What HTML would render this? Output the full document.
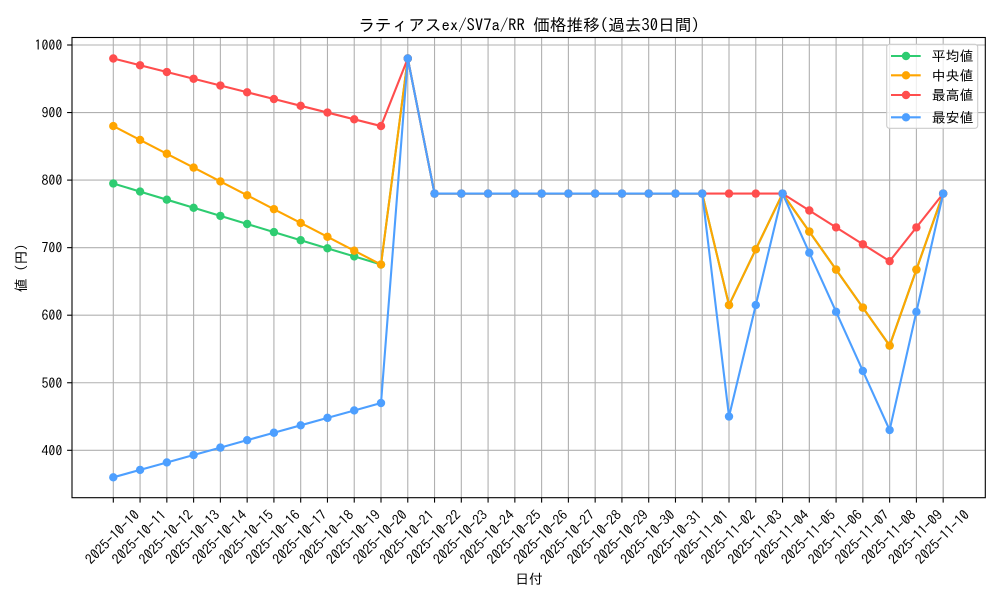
<!DOCTYPE html>
<html><head><meta charset="utf-8"><style>
html,body{margin:0;padding:0;background:#fff;}
svg{display:block;}
text{font-family:"IPAGothic","Liberation Sans","Noto Sans CJK JP",sans-serif;fill:#000;}
</style></head><body>
<svg width="1000" height="600" viewBox="0 0 1000 600" xmlns="http://www.w3.org/2000/svg">
<defs>
<marker id="mg" markerUnits="userSpaceOnUse" markerWidth="10" markerHeight="10" refX="5" refY="5" overflow="visible"><circle cx="5" cy="5" r="4.2" fill="#2ecc71"/></marker>
<marker id="mo" markerUnits="userSpaceOnUse" markerWidth="10" markerHeight="10" refX="5" refY="5" overflow="visible"><circle cx="5" cy="5" r="4.2" fill="#ffa500"/></marker>
<marker id="mr" markerUnits="userSpaceOnUse" markerWidth="10" markerHeight="10" refX="5" refY="5" overflow="visible"><circle cx="5" cy="5" r="4.2" fill="#ff4d4d"/></marker>
<marker id="mb" markerUnits="userSpaceOnUse" markerWidth="10" markerHeight="10" refX="5" refY="5" overflow="visible"><circle cx="5" cy="5" r="4.2" fill="#4d9fff"/></marker>
</defs>
<rect x="0" y="0" width="1000" height="600" fill="#fff"/>
<!-- grid -->
<g stroke="#b0b0b0" stroke-width="1.1">
<line x1="72" x2="985.3" y1="45" y2="45"/>
<line x1="72" x2="985.3" y1="112.55" y2="112.55"/>
<line x1="72" x2="985.3" y1="180.1" y2="180.1"/>
<line x1="72" x2="985.3" y1="247.65" y2="247.65"/>
<line x1="72" x2="985.3" y1="315.2" y2="315.2"/>
<line x1="72" x2="985.3" y1="382.75" y2="382.75"/>
<line x1="72" x2="985.3" y1="450.3" y2="450.3"/>
<line x1="113.30" x2="113.30" y1="37.5" y2="497.7"/>
<line x1="140.07" x2="140.07" y1="37.5" y2="497.7"/>
<line x1="166.84" x2="166.84" y1="37.5" y2="497.7"/>
<line x1="193.61" x2="193.61" y1="37.5" y2="497.7"/>
<line x1="220.38" x2="220.38" y1="37.5" y2="497.7"/>
<line x1="247.15" x2="247.15" y1="37.5" y2="497.7"/>
<line x1="273.92" x2="273.92" y1="37.5" y2="497.7"/>
<line x1="300.69" x2="300.69" y1="37.5" y2="497.7"/>
<line x1="327.46" x2="327.46" y1="37.5" y2="497.7"/>
<line x1="354.23" x2="354.23" y1="37.5" y2="497.7"/>
<line x1="381.00" x2="381.00" y1="37.5" y2="497.7"/>
<line x1="407.77" x2="407.77" y1="37.5" y2="497.7"/>
<line x1="434.54" x2="434.54" y1="37.5" y2="497.7"/>
<line x1="461.31" x2="461.31" y1="37.5" y2="497.7"/>
<line x1="488.08" x2="488.08" y1="37.5" y2="497.7"/>
<line x1="514.85" x2="514.85" y1="37.5" y2="497.7"/>
<line x1="541.62" x2="541.62" y1="37.5" y2="497.7"/>
<line x1="568.39" x2="568.39" y1="37.5" y2="497.7"/>
<line x1="595.16" x2="595.16" y1="37.5" y2="497.7"/>
<line x1="621.93" x2="621.93" y1="37.5" y2="497.7"/>
<line x1="648.70" x2="648.70" y1="37.5" y2="497.7"/>
<line x1="675.47" x2="675.47" y1="37.5" y2="497.7"/>
<line x1="702.24" x2="702.24" y1="37.5" y2="497.7"/>
<line x1="729.01" x2="729.01" y1="37.5" y2="497.7"/>
<line x1="755.78" x2="755.78" y1="37.5" y2="497.7"/>
<line x1="782.55" x2="782.55" y1="37.5" y2="497.7"/>
<line x1="809.32" x2="809.32" y1="37.5" y2="497.7"/>
<line x1="836.09" x2="836.09" y1="37.5" y2="497.7"/>
<line x1="862.86" x2="862.86" y1="37.5" y2="497.7"/>
<line x1="889.63" x2="889.63" y1="37.5" y2="497.7"/>
<line x1="916.40" x2="916.40" y1="37.5" y2="497.7"/>
<line x1="943.17" x2="943.17" y1="37.5" y2="497.7"/>
</g>
<!-- series -->
<g fill="none" stroke-width="2.1" stroke-linejoin="round" stroke-linecap="butt">
<polyline stroke="#2ecc71" marker-start="url(#mg)" marker-mid="url(#mg)" marker-end="url(#mg)" points="113.30,183.48 140.07,191.58 166.84,199.69 193.61,207.80 220.38,215.90 247.15,224.01 273.92,232.11 300.69,240.22 327.46,248.33 354.23,256.43 381.00,264.54 407.77,58.51 434.54,193.61 461.31,193.61 488.08,193.61 514.85,193.61 541.62,193.61 568.39,193.61 595.16,193.61 621.93,193.61 648.70,193.61 675.47,193.61 702.24,193.61 729.01,305.07 755.78,249.34 782.55,193.61 809.32,231.61 836.09,269.60 862.86,307.60 889.63,345.60 916.40,269.60 943.17,193.61"/>
<polyline stroke="#ffa500" marker-start="url(#mo)" marker-mid="url(#mo)" marker-end="url(#mo)" points="113.30,126.06 140.07,139.91 166.84,153.76 193.61,167.60 220.38,181.45 247.15,195.30 273.92,209.15 300.69,222.99 327.46,236.84 354.23,250.69 381.00,264.54 407.77,58.51 434.54,193.61 461.31,193.61 488.08,193.61 514.85,193.61 541.62,193.61 568.39,193.61 595.16,193.61 621.93,193.61 648.70,193.61 675.47,193.61 702.24,193.61 729.01,305.07 755.78,249.34 782.55,193.61 809.32,231.61 836.09,269.60 862.86,307.60 889.63,345.60 916.40,269.60 943.17,193.61"/>
<polyline stroke="#ff4d4d" marker-start="url(#mr)" marker-mid="url(#mr)" marker-end="url(#mr)" points="113.30,58.51 140.07,65.27 166.84,72.02 193.61,78.78 220.38,85.53 247.15,92.29 273.92,99.04 300.69,105.80 327.46,112.55 354.23,119.31 381.00,126.06 407.77,58.51 434.54,193.61 461.31,193.61 488.08,193.61 514.85,193.61 541.62,193.61 568.39,193.61 595.16,193.61 621.93,193.61 648.70,193.61 675.47,193.61 702.24,193.61 729.01,193.61 755.78,193.61 782.55,193.61 809.32,210.50 836.09,227.39 862.86,244.27 889.63,261.16 916.40,227.39 943.17,193.61"/>
<polyline stroke="#4d9fff" marker-start="url(#mb)" marker-mid="url(#mb)" marker-end="url(#mb)" points="113.30,477.32 140.07,469.89 166.84,462.46 193.61,455.03 220.38,447.60 247.15,440.17 273.92,432.74 300.69,425.31 327.46,417.88 354.23,410.45 381.00,403.02 407.77,58.51 434.54,193.61 461.31,193.61 488.08,193.61 514.85,193.61 541.62,193.61 568.39,193.61 595.16,193.61 621.93,193.61 648.70,193.61 675.47,193.61 702.24,193.61 729.01,416.53 755.78,305.07 782.55,193.61 809.32,252.72 836.09,311.82 862.86,370.93 889.63,430.04 916.40,311.82 943.17,193.61"/>
</g>
<!-- spines -->
<rect x="72" y="37.5" width="913.3" height="460.2" fill="none" stroke="#000" stroke-width="1.1"/>
<!-- ticks -->
<g stroke="#000" stroke-width="1.1">
<line x1="67.1" x2="72" y1="45" y2="45"/>
<line x1="67.1" x2="72" y1="112.55" y2="112.55"/>
<line x1="67.1" x2="72" y1="180.1" y2="180.1"/>
<line x1="67.1" x2="72" y1="247.65" y2="247.65"/>
<line x1="67.1" x2="72" y1="315.2" y2="315.2"/>
<line x1="67.1" x2="72" y1="382.75" y2="382.75"/>
<line x1="67.1" x2="72" y1="450.3" y2="450.3"/>
<line x1="113.30" x2="113.30" y1="497.7" y2="502.6"/>
<line x1="140.07" x2="140.07" y1="497.7" y2="502.6"/>
<line x1="166.84" x2="166.84" y1="497.7" y2="502.6"/>
<line x1="193.61" x2="193.61" y1="497.7" y2="502.6"/>
<line x1="220.38" x2="220.38" y1="497.7" y2="502.6"/>
<line x1="247.15" x2="247.15" y1="497.7" y2="502.6"/>
<line x1="273.92" x2="273.92" y1="497.7" y2="502.6"/>
<line x1="300.69" x2="300.69" y1="497.7" y2="502.6"/>
<line x1="327.46" x2="327.46" y1="497.7" y2="502.6"/>
<line x1="354.23" x2="354.23" y1="497.7" y2="502.6"/>
<line x1="381.00" x2="381.00" y1="497.7" y2="502.6"/>
<line x1="407.77" x2="407.77" y1="497.7" y2="502.6"/>
<line x1="434.54" x2="434.54" y1="497.7" y2="502.6"/>
<line x1="461.31" x2="461.31" y1="497.7" y2="502.6"/>
<line x1="488.08" x2="488.08" y1="497.7" y2="502.6"/>
<line x1="514.85" x2="514.85" y1="497.7" y2="502.6"/>
<line x1="541.62" x2="541.62" y1="497.7" y2="502.6"/>
<line x1="568.39" x2="568.39" y1="497.7" y2="502.6"/>
<line x1="595.16" x2="595.16" y1="497.7" y2="502.6"/>
<line x1="621.93" x2="621.93" y1="497.7" y2="502.6"/>
<line x1="648.70" x2="648.70" y1="497.7" y2="502.6"/>
<line x1="675.47" x2="675.47" y1="497.7" y2="502.6"/>
<line x1="702.24" x2="702.24" y1="497.7" y2="502.6"/>
<line x1="729.01" x2="729.01" y1="497.7" y2="502.6"/>
<line x1="755.78" x2="755.78" y1="497.7" y2="502.6"/>
<line x1="782.55" x2="782.55" y1="497.7" y2="502.6"/>
<line x1="809.32" x2="809.32" y1="497.7" y2="502.6"/>
<line x1="836.09" x2="836.09" y1="497.7" y2="502.6"/>
<line x1="862.86" x2="862.86" y1="497.7" y2="502.6"/>
<line x1="889.63" x2="889.63" y1="497.7" y2="502.6"/>
<line x1="916.40" x2="916.40" y1="497.7" y2="502.6"/>
<line x1="943.17" x2="943.17" y1="497.7" y2="502.6"/>
</g>
<!-- y tick labels -->
<g font-size="13.9" text-anchor="end">
<text x="62.3" y="50">1000</text>
<text x="62.3" y="117.55">900</text>
<text x="62.3" y="185.1">800</text>
<text x="62.3" y="252.65">700</text>
<text x="62.3" y="320.2">600</text>
<text x="62.3" y="387.75">500</text>
<text x="62.3" y="455.3">400</text>
</g>
<!-- x tick labels -->
<g font-size="13.9" text-anchor="middle">
<text transform="translate(112.3,537) rotate(-45)" y="5">2025-10-10</text>
<text transform="translate(139.07,537) rotate(-45)" y="5">2025-10-11</text>
<text transform="translate(165.84,537) rotate(-45)" y="5">2025-10-12</text>
<text transform="translate(192.61,537) rotate(-45)" y="5">2025-10-13</text>
<text transform="translate(219.38,537) rotate(-45)" y="5">2025-10-14</text>
<text transform="translate(246.15,537) rotate(-45)" y="5">2025-10-15</text>
<text transform="translate(272.92,537) rotate(-45)" y="5">2025-10-16</text>
<text transform="translate(299.69,537) rotate(-45)" y="5">2025-10-17</text>
<text transform="translate(326.46,537) rotate(-45)" y="5">2025-10-18</text>
<text transform="translate(353.23,537) rotate(-45)" y="5">2025-10-19</text>
<text transform="translate(380.00,537) rotate(-45)" y="5">2025-10-20</text>
<text transform="translate(406.77,537) rotate(-45)" y="5">2025-10-21</text>
<text transform="translate(433.54,537) rotate(-45)" y="5">2025-10-22</text>
<text transform="translate(460.31,537) rotate(-45)" y="5">2025-10-23</text>
<text transform="translate(487.08,537) rotate(-45)" y="5">2025-10-24</text>
<text transform="translate(513.85,537) rotate(-45)" y="5">2025-10-25</text>
<text transform="translate(540.62,537) rotate(-45)" y="5">2025-10-26</text>
<text transform="translate(567.39,537) rotate(-45)" y="5">2025-10-27</text>
<text transform="translate(594.16,537) rotate(-45)" y="5">2025-10-28</text>
<text transform="translate(620.93,537) rotate(-45)" y="5">2025-10-29</text>
<text transform="translate(647.70,537) rotate(-45)" y="5">2025-10-30</text>
<text transform="translate(674.47,537) rotate(-45)" y="5">2025-10-31</text>
<text transform="translate(701.24,537) rotate(-45)" y="5">2025-11-01</text>
<text transform="translate(728.01,537) rotate(-45)" y="5">2025-11-02</text>
<text transform="translate(754.78,537) rotate(-45)" y="5">2025-11-03</text>
<text transform="translate(781.55,537) rotate(-45)" y="5">2025-11-04</text>
<text transform="translate(808.32,537) rotate(-45)" y="5">2025-11-05</text>
<text transform="translate(835.09,537) rotate(-45)" y="5">2025-11-06</text>
<text transform="translate(861.86,537) rotate(-45)" y="5">2025-11-07</text>
<text transform="translate(888.63,537) rotate(-45)" y="5">2025-11-08</text>
<text transform="translate(915.40,537) rotate(-45)" y="5">2025-11-09</text>
<text transform="translate(942.17,537) rotate(-45)" y="5">2025-11-10</text>
</g>
<!-- axis labels & title -->
<text x="529" y="584" font-size="13.9" text-anchor="middle">日付</text>
<text transform="translate(21,268) rotate(-90)" y="5" font-size="13.9" text-anchor="middle">値 (円)</text>
<text x="529" y="31" font-size="16.67" text-anchor="middle">ラティアスex/SV7a/RR 価格推移(過去30日間)</text>
<!-- legend -->
<rect x="886.7" y="44.3" width="91" height="84" rx="2.8" ry="2.8" fill="#fff" fill-opacity="0.8" stroke="#cccccc" stroke-width="1.1"/>
<g stroke-width="2.1">
<line x1="891" x2="920.7" y1="56" y2="56" stroke="#2ecc71"/>
<line x1="891" x2="920.7" y1="75.3" y2="75.3" stroke="#ffa500"/>
<line x1="891" x2="920.7" y1="95" y2="95" stroke="#ff4d4d"/>
<line x1="891" x2="920.7" y1="117.3" y2="117.3" stroke="#4d9fff"/>
</g>
<circle cx="906" cy="56" r="4.2" fill="#2ecc71"/>
<circle cx="906" cy="75.3" r="4.2" fill="#ffa500"/>
<circle cx="906" cy="95" r="4.2" fill="#ff4d4d"/>
<circle cx="906" cy="117.3" r="4.2" fill="#4d9fff"/>
<g font-size="13.9">
<text x="931.7" y="61">平均値</text>
<text x="931.7" y="80.3">中央値</text>
<text x="931.7" y="100">最高値</text>
<text x="931.7" y="122.3">最安値</text>
</g>
</svg>
</body></html>
